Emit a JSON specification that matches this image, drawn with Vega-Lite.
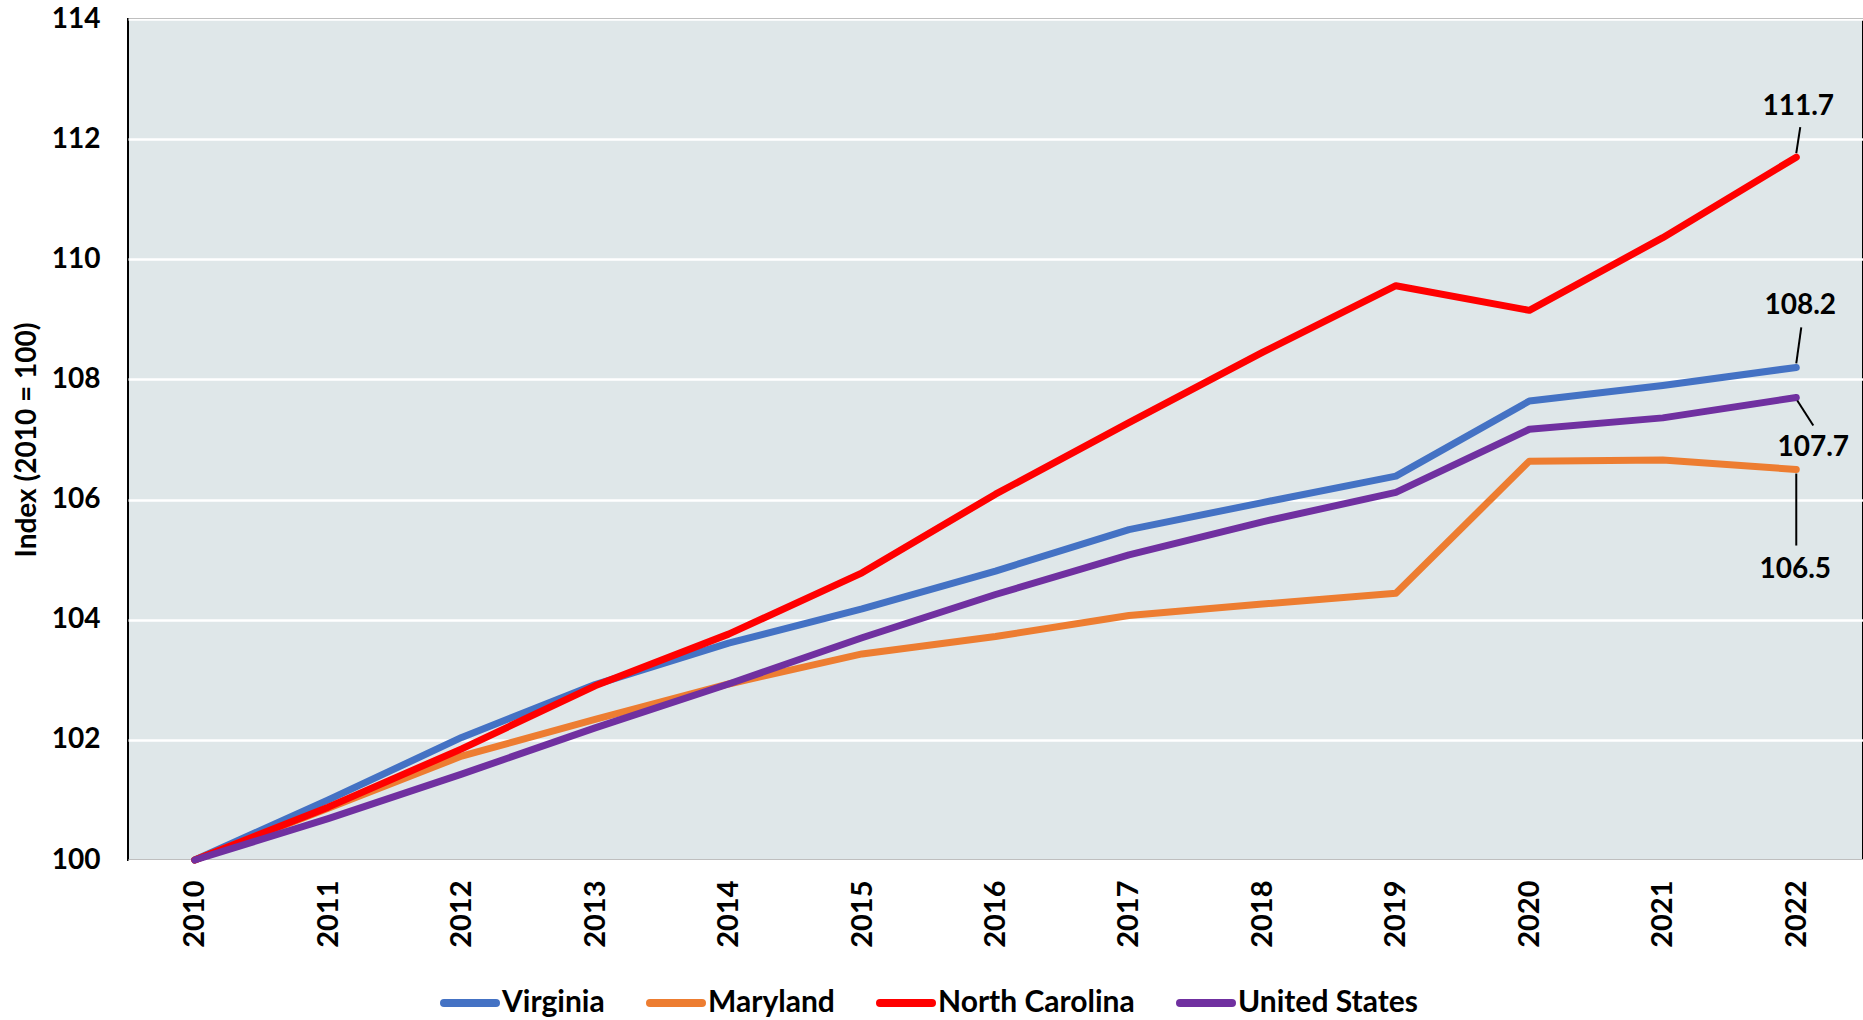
{
  "$schema": "https://vega.github.io/schema/vega-lite/v6.json",
  "width": 1735,
  "height": 841,
  "autosize": {"type": "none"},
  "padding": {"left": 128, "top": 19, "right": 0, "bottom": 160},
  "background": "white",
  "config": {
    "font": "Lato",
    "view": {"fill": "#DFE7E9", "stroke": "black", "strokeWidth": 2},
    "axis": {"labelFont": "Lato", "labelFontWeight": "bold", "labelColor": "black", "titleFont": "Lato", "titleFontWeight": "bold", "titleColor": "black"}
  },
  "data": {
    "values": [
      {"year": "2010", "series": "Virginia", "value": 100},
      {"year": "2011", "series": "Virginia", "value": 101.0},
      {"year": "2012", "series": "Virginia", "value": 102.04},
      {"year": "2013", "series": "Virginia", "value": 102.92},
      {"year": "2014", "series": "Virginia", "value": 103.61},
      {"year": "2015", "series": "Virginia", "value": 104.18},
      {"year": "2016", "series": "Virginia", "value": 104.81},
      {"year": "2017", "series": "Virginia", "value": 105.5},
      {"year": "2018", "series": "Virginia", "value": 105.95},
      {"year": "2019", "series": "Virginia", "value": 106.39},
      {"year": "2020", "series": "Virginia", "value": 107.64},
      {"year": "2021", "series": "Virginia", "value": 107.9},
      {"year": "2022", "series": "Virginia", "value": 108.2},
      {"year": "2010", "series": "Maryland", "value": 100},
      {"year": "2011", "series": "Maryland", "value": 100.86},
      {"year": "2012", "series": "Maryland", "value": 101.73},
      {"year": "2013", "series": "Maryland", "value": 102.34},
      {"year": "2014", "series": "Maryland", "value": 102.93},
      {"year": "2015", "series": "Maryland", "value": 103.43},
      {"year": "2016", "series": "Maryland", "value": 103.72},
      {"year": "2017", "series": "Maryland", "value": 104.07},
      {"year": "2018", "series": "Maryland", "value": 104.26},
      {"year": "2019", "series": "Maryland", "value": 104.44},
      {"year": "2020", "series": "Maryland", "value": 106.64},
      {"year": "2021", "series": "Maryland", "value": 106.66},
      {"year": "2022", "series": "Maryland", "value": 106.5},
      {"year": "2010", "series": "North Carolina", "value": 100},
      {"year": "2011", "series": "North Carolina", "value": 100.88},
      {"year": "2012", "series": "North Carolina", "value": 101.85},
      {"year": "2013", "series": "North Carolina", "value": 102.9},
      {"year": "2014", "series": "North Carolina", "value": 103.76},
      {"year": "2015", "series": "North Carolina", "value": 104.78},
      {"year": "2016", "series": "North Carolina", "value": 106.09},
      {"year": "2017", "series": "North Carolina", "value": 107.28},
      {"year": "2018", "series": "North Carolina", "value": 108.45},
      {"year": "2019", "series": "North Carolina", "value": 109.56},
      {"year": "2020", "series": "North Carolina", "value": 109.15},
      {"year": "2021", "series": "North Carolina", "value": 110.36},
      {"year": "2022", "series": "North Carolina", "value": 111.7},
      {"year": "2010", "series": "United States", "value": 100},
      {"year": "2011", "series": "United States", "value": 100.69},
      {"year": "2012", "series": "United States", "value": 101.43},
      {"year": "2013", "series": "United States", "value": 102.2},
      {"year": "2014", "series": "United States", "value": 102.93},
      {"year": "2015", "series": "United States", "value": 103.7},
      {"year": "2016", "series": "United States", "value": 104.42},
      {"year": "2017", "series": "United States", "value": 105.08},
      {"year": "2018", "series": "United States", "value": 105.63},
      {"year": "2019", "series": "United States", "value": 106.12},
      {"year": "2020", "series": "United States", "value": 107.17},
      {"year": "2021", "series": "United States", "value": 107.36},
      {"year": "2022", "series": "United States", "value": 107.7}
    ]
  },
  "encoding": {
    "x": {
      "field": "year", "type": "ordinal",
      "scale": {"type": "point", "padding": 0.5},
      "axis": {"title": null, "labelAngle": -90, "labelAlign": "right", "labelBaseline": "middle", "labelFontSize": 29, "labelPadding": 20, "ticks": false, "domain": false, "grid": false}
    },
    "y": {
      "field": "value", "type": "quantitative",
      "scale": {"domain": [100, 114], "nice": false, "zero": false},
      "axis": {"title": "Index (2010 = 100)", "titleFontSize": 28, "titlePadding": 10, "values": [100, 102, 104, 106, 108, 110, 112, 114], "labelFontSize": 28, "labelPadding": 28, "ticks": false, "domain": false, "grid": true, "gridColor": "white", "gridWidth": 2.5}
    }
  },
  "layer": [
    {
      "mark": {"type": "line", "strokeWidth": 7, "strokeJoin": "round", "strokeCap": "round"},
      "encoding": {
        "color": {
          "field": "series", "type": "nominal",
          "scale": {"domain": ["Virginia", "Maryland", "North Carolina", "United States"], "range": ["#4472C4", "#ED7D31", "#FF0000", "#7030A0"]},
          "sort": ["Virginia", "Maryland", "North Carolina", "United States"],
          "legend": {
            "title": null, "orient": "none", "direction": "horizontal",
            "legendX": 312, "legendY": 954,
            "symbolType": "stroke", "symbolStrokeWidth": 8, "symbolSize": 2704,
            "labelFontSize": 30, "labelFont": "Lato", "labelFontWeight": "bold", "labelColor": "black", "labelLimit": 0,
            "labelOffset": 2, "columnPadding": 29, "symbolOffset": 0,
            "encode": {"symbols": {"update": {"strokeCap": {"value": "round"}}}}
          }
        }
      }
    },
    {
      "transform": [{"filter": "datum.year == '2022' && datum.series == 'North Carolina'"}],
      "mark": {"type": "rule", "stroke": "black", "strokeWidth": 2, "yOffset": -4, "y2Offset": -30, "x2Offset": 4},
      "encoding": {"x2": {"field": "year"}, "y2": {"field": "value"}}
    },
    {
      "transform": [{"filter": "datum.year == '2022' && datum.series == 'North Carolina'"}],
      "mark": {"type": "text", "fontSize": 28, "fontWeight": "bold", "font": "Lato", "color": "black", "dy": -50, "dx": 2},
      "encoding": {"text": {"field": "value", "format": ".1f"}}
    },
    {
      "transform": [{"filter": "datum.year == '2022' && datum.series == 'Virginia'"}],
      "mark": {"type": "rule", "stroke": "black", "strokeWidth": 2, "yOffset": -4, "y2Offset": -40, "x2Offset": 5},
      "encoding": {"x2": {"field": "year"}, "y2": {"field": "value"}}
    },
    {
      "transform": [{"filter": "datum.year == '2022' && datum.series == 'Virginia'"}],
      "mark": {"type": "text", "fontSize": 28, "fontWeight": "bold", "font": "Lato", "color": "black", "dy": -61, "dx": 4},
      "encoding": {"text": {"field": "value", "format": ".1f"}}
    },
    {
      "transform": [{"filter": "datum.year == '2022' && datum.series == 'United States'"}],
      "mark": {"type": "rule", "stroke": "black", "strokeWidth": 2, "yOffset": 3, "y2Offset": 28, "x2Offset": 17, "xOffset": 1},
      "encoding": {"x2": {"field": "year"}, "y2": {"field": "value"}}
    },
    {
      "transform": [{"filter": "datum.year == '2022' && datum.series == 'United States'"}],
      "mark": {"type": "text", "fontSize": 28, "fontWeight": "bold", "font": "Lato", "color": "black", "dy": 51, "dx": 17},
      "encoding": {"text": {"field": "value", "format": ".1f"}}
    },
    {
      "transform": [{"filter": "datum.year == '2022' && datum.series == 'Maryland'"}],
      "mark": {"type": "rule", "stroke": "black", "strokeWidth": 2, "yOffset": 4, "y2Offset": 76},
      "encoding": {"x2": {"field": "year"}, "y2": {"field": "value"}}
    },
    {
      "transform": [{"filter": "datum.year == '2022' && datum.series == 'Maryland'"}],
      "mark": {"type": "text", "fontSize": 28, "fontWeight": "bold", "font": "Lato", "color": "black", "dy": 100, "dx": -1},
      "encoding": {"text": {"field": "value", "format": ".1f"}}
    }
  ]
}
